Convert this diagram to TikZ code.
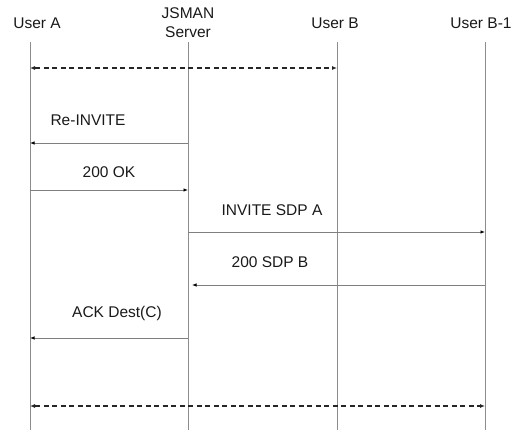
\documentclass[tikz,border=0pt]{standalone}
\usepackage{fontspec}
\setmainfont{Liberation Sans}
\usetikzlibrary{arrows.meta,calc}
\begin{document}
\begin{tikzpicture}[x=1pt,y=-1pt,
  lbl/.style={font=\fontsize{15.5}{17}\selectfont, inner sep=0pt, text=black!90},
  life/.style={draw=black!45, line width=0.8pt},
  msg/.style={draw=black!50, line width=0.8pt, -{Latex[length=4.5pt,width=3.5pt,black]}},
  span/.style={draw=black!85, line width=1.2pt, dash pattern=on 5pt off 3.5pt},
  spantip/.style={draw=black!85, line width=1.2pt, solid,
    -{Latex[length=5pt,width=4pt]}}]
  \useasboundingbox (0,0) rectangle (528,430);
  % participants
  \node[lbl] (ua)  at (37,23) {User A};
  \node[lbl, align=center, font=\fontsize{15.5}{19}\selectfont] (srv) at (188,23) {JSMAN\\Server};
  \node[lbl] (ub)  at (335,23) {User B};
  \node[lbl] (ub1) at (481,23) {User B-1};
  % lifelines
  \coordinate (a0) at (30,42);   \coordinate (a1) at (30,430);
  \coordinate (s0) at (188,42);  \coordinate (s1) at (188,430);
  \coordinate (b0) at (337,42);  \coordinate (b1) at (337,430);
  \coordinate (c0) at (485,42);  \coordinate (c1) at (485,430);
  \draw[life] (a0) -- (a1);
  \draw[life] (s0) -- (s1);
  \draw[life] (b0) -- (b1);
  \draw[life] (c0) -- (c1);
  % message end points
  \coordinate (d1a) at (30,68);   \coordinate (d1b) at (337,68);
  \coordinate (m1s) at (188,143); \coordinate (m1a) at (30,143);
  \coordinate (m2a) at (30,190);  \coordinate (m2s) at (188,190);
  \coordinate (m3s) at (188,232); \coordinate (m3c) at (485,232);
  \coordinate (m4c) at (485,285); \coordinate (m4s) at (192,285);
  \coordinate (m5s) at (188,338); \coordinate (m5a) at (30,338);
  \coordinate (d2a) at (30,406);  \coordinate (d2c) at (485,406);
  % session spans: dashed body, solid tips at both ends
  \draw[span, shorten <=5pt, shorten >=5pt] (d1a) -- (d1b);
  \draw[spantip] ($(d1a)!5.5pt!(d1b)$) -- (d1a);
  \draw[spantip] ($(d1b)!5.5pt!(d1a)$) -- (d1b);
  \draw[span, shorten <=5pt, shorten >=5pt] (d2a) -- (d2c);
  \draw[spantip] ($(d2a)!5.5pt!(d2c)$) -- (d2a);
  \draw[spantip] ($(d2c)!5.5pt!(d2a)$) -- (d2c);
  % messages
  \draw[msg] (m1s) -- (m1a);
  \node[lbl] (t1) at (88,120) {Re-INVITE};
  \draw[msg] (m2a) -- (m2s);
  \node[lbl] (t2) at (109,172) {200 OK};
  \draw[msg] (m3s) -- (m3c);
  \node[lbl] (t3) at (272,210) {INVITE SDP A};
  \draw[msg] (m4c) -- (m4s);
  \node[lbl] (t4) at (270,262) {200 SDP B};
  \draw[msg] (m5s) -- (m5a);
  \node[lbl] (t5) at (117,313) {ACK Dest(C)};
\end{tikzpicture}
\end{document}
